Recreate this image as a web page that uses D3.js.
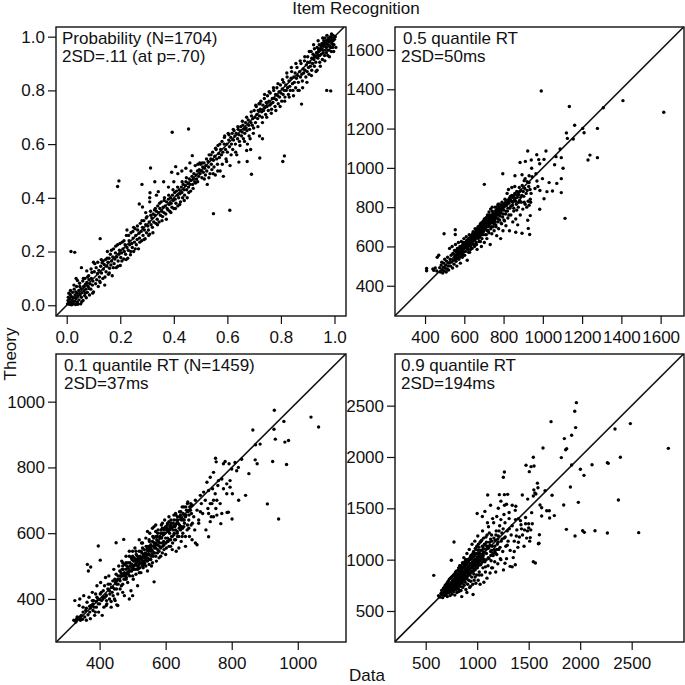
<!DOCTYPE html>
<html>
<head>
<meta charset="utf-8">
<title>Item Recognition</title>
<style>
  html, body { margin: 0; padding: 0; background: #fff; }
  text { font-family: "Liberation Sans", Arial, sans-serif; fill: #111; }
</style>
</head>
<body>
<script src="https://d3js.org/d3.v7.min.js"></script>
<svg id="chart" width="685" height="685" style="display:block"></svg>
<script>
// values
const probTicks = [0, 0.2, 0.4, 0.6, 0.8, 1.0]
const median_ticks = [400, 600, 800, 1000, 1200, 1400, 1600]
const q1Ticks = [400, 600, 800, 1000]
const q9Ticks = [500, 1000, 1500, 2000, 2500]

const probPoints = [
[.003,.005],[.005,.018],[.006,.03],[.008,.012],[.01,.004],[.012,.025],[.013,.04],[.015,.01],[.017,.002],[.018,.032],[.02,.018],[.022,.048],[.024,.008],[.025,.028],[.028,.06],[.03,.015],[.031,.038],[.033,.003],[.035,.025],[.037,.07],[.039,.045],[.04,.012],[.042,.033],[.045,.055],[.046,.02],[.048,.082],[.05,.04],[.052,.005],[.054,.062],[.055,.03],[.057,.047],[.06,.09],[.061,.018],[.063,.07],[.065,.054],[.067,.036],[.068,.1],[.07,.078],[.072,.06],[.073,.028],[.075,.085],[.077,.048],[.08,.07],[.082,.11],[.083,.095],[.085,.038],[.087,.08],[.09,.06],[.092,.1],[.094,.122],[.096,.075],[.098,.09],[.1,.16],[.1,.05],
[.016,.2],[.03,.197],[.125,.248],[.055,.14],[.035,.1],[.04,.092],[.075,.128],[.105,.155],[.11,.14],[.112,.095],[.115,.118],[.118,.07],[.12,.13],[.122,.105],[.125,.085],[.127,.145],[.13,.12],[.132,.158],[.135,.1],[.137,.135],[.14,.152],[.142,.075],[.145,.17],[.147,.125],[.15,.145],[.152,.2],[.154,.16],[.156,.115],[.158,.175],[.16,.138],[.163,.19],[.165,.15],[.168,.165],[.17,.11],[.172,.18],[.175,.21],[.177,.155],[.18,.172],[.182,.195],[.185,.14],[.187,.18],[.19,.225],[.192,.165],[.195,.19],[.197,.205],[.2,.148],[.202,.178],[.205,.195],[.207,.235],[.21,.21],[.213,.172],[.215,.2],[.218,.225],[.22,.19],[.223,.26],[.225,.215],[.228,.175],[.23,.205],[.233,.24],[.235,.225],[.238,.188],[.24,.27],[.243,.23],[.245,.215],[.248,.25],[.25,.2],[.253,.235],[.255,.285],[.258,.26],[.26,.225],[.263,.245],[.265,.28],[.268,.21],[.27,.268],[.272,.25],[.275,.305],[.278,.275],[.28,.24],[.283,.29],[.285,.26],[.288,.315],[.29,.28],[.293,.248],[.295,.3],[.298,.27],[.3,.33],[.303,.295],[.305,.28],[.308,.31],[.31,.265],[.313,.35],[.315,.3],[.318,.325],[.32,.29],[.323,.34],[.325,.31],
[.19,.442],[.195,.463],[.313,.511],[.281,.45],[.329,.46],[.394,.644],[.455,.656],[.548,.341],[.609,.354],[.69,.488],[.721,.548],[.807,.535],[.813,.556],[.877,.749],[.971,.8],[.986,.798],[.731,.62],[.72,.63],[.674,.535],[.643,.533],[.672,.576],[.687,.58],[.362,.46],[.392,.495],[.407,.516],[.469,.557],[.311,.419],[.342,.423],[.271,.377],[.283,.366],[.31,.385],[.335,.41],[.4,.46],[.38,.44],[.415,.49],[.43,.5],[.445,.51],[.46,.53],[.31,.4],[.295,.345],[.25,.29],[.225,.28],
[.328,.355],[.33,.335],[.333,.305],[.335,.35],[.338,.32],[.34,.37],[.343,.345],[.345,.31],[.348,.36],[.35,.335],[.353,.385],[.355,.35],[.358,.33],[.36,.365],[.363,.345],[.365,.4],[.368,.37],[.37,.34],[.373,.385],[.375,.36],[.378,.355],[.38,.395],[.383,.375],[.385,.35],[.388,.4],[.39,.38],[.393,.365],[.395,.41],[.398,.39],[.4,.36],[.403,.42],[.405,.395],[.408,.38],[.41,.425],[.413,.41],[.415,.37],[.418,.4],[.42,.43],[.423,.415],[.425,.385],[.428,.44],[.43,.42],[.433,.4],[.435,.45],[.438,.43],[.44,.41],[.443,.445],[.445,.46],[.448,.43],[.45,.4],[.453,.455],[.455,.44],[.458,.47],[.46,.45],[.463,.425],[.465,.465],[.468,.48],[.47,.45],[.473,.47],[.475,.49],[.478,.46],[.48,.52],[.483,.485],[.485,.47],[.488,.5],[.49,.525],[.493,.48],[.495,.505],[.498,.49],[.5,.525],[.503,.5],[.505,.475],[.508,.515],[.51,.495],[.513,.53],[.515,.51],[.518,.485],[.52,.52],[.523,.5],[.525,.45],[.528,.535],[.53,.515],[.532,.56],[.535,.49],[.538,.545],[.54,.525],[.542,.505],[.545,.57],[.548,.54],[.55,.515],[.553,.555],[.555,.485],[.558,.58],[.56,.545],[.563,.525],[.565,.595],[.568,.565],[.57,.55],[.573,.5],[.575,.58],[.578,.56],[.58,.61],[.583,.57],[.585,.48],[.588,.6],[.59,.63],[.593,.58],[.595,.545],[.598,.6],[.6,.57],[.603,.64],[.605,.615],[.608,.59],[.61,.52],[.613,.625],[.615,.6],[.618,.64],[.62,.58],[.623,.615],[.625,.65],[.628,.63],[.63,.6],[.633,.64],[.635,.56],[.638,.62],[.64,.655],[.643,.635],[.645,.61],[.648,.65],[.65,.665],[.653,.63],[.655,.645],[.658,.67],[.66,.62],[.663,.655],[.665,.64],[.668,.68],[.67,.66],[.673,.65],[.675,.6],[.678,.69],[.68,.67],[.683,.655],[.685,.62],[.688,.68],[.69,.705],[.693,.67],[.695,.695],[.698,.66],[.7,.725],[.703,.7],[.705,.68],[.708,.74],[.71,.71],[.713,.695],[.715,.725],[.718,.75],[.72,.705],[.723,.73],[.725,.76],[.728,.72],[.73,.7],[.733,.745],[.735,.725],[.738,.77],[.74,.735],[.743,.71],[.745,.755],[.748,.74],[.75,.78],[.753,.725],[.755,.76],[.758,.745],[.76,.79],[.763,.75],[.765,.73],[.768,.77],[.77,.755],[.773,.8],[.775,.77],[.778,.74],[.78,.785],[.783,.765],[.785,.81],[.788,.78],[.79,.75],[.793,.795],[.795,.775],[.798,.82],[.8,.79],[.803,.76],[.805,.805],[.808,.785],[.81,.83],[.813,.8],[.815,.775],[.818,.82],[.82,.8],[.823,.85],[.825,.81],[.828,.785],[.83,.835],[.833,.815],[.835,.8],[.838,.845],[.84,.87],[.843,.825],[.845,.8],[.848,.85],[.85,.83],[.853,.865],[.855,.81],[.858,.845],[.86,.885],[.863,.855],[.865,.83],[.868,.8],[.87,.87],[.873,.85],[.875,.9],[.878,.86],[.88,.835],[.883,.88],[.885,.865],[.888,.91],[.89,.875],[.893,.85],[.895,.895],[.898,.87],[.9,.925],[.9,.905],[.903,.885],[.905,.86],[.908,.905],[.91,.89],[.913,.945],[.915,.92],[.915,.875],[.918,.9],[.92,.935],[.923,.915],[.925,.955],[.925,.89],[.928,.925],[.93,.905],[.933,.94],[.935,.96],[.935,.875],[.938,.92],[.94,.945],[.943,.97],[.945,.93],[.945,.905],[.948,.955],[.95,.935],[.953,.975],[.955,.95],[.955,.915],[.958,.94],[.96,.985],[.96,.965],[.963,.93],[.965,.95],[.965,.995],[.968,.975],[.97,.94],[.97,.96],[.973,.985],[.975,.93],[.975,.97],[.978,.995],[.98,.95],[.98,.98],[.983,.965],[.985,1.0],[.985,.985],[.988,.945],[.99,.975],[.99,.995],[.993,.96],[.995,.985],[.995,1.005],[.998,.97],[1.0,.99],[1.003,1.0],[1.005,.96],
[.008,.045],[.014,.055],[.021,.003],[.027,.075],[.034,.05],[.041,.004],[.049,.07],[.056,.012],[.062,.1],[.069,.045],[.078,.105],[.084,.062],[.091,.135],[.097,.045],[.103,.125],[.108,.08],[.116,.16],[.123,.09],[.129,.17],[.136,.165],[.143,.105],[.151,.175],[.159,.12],[.167,.205],[.174,.14],[.183,.22],[.191,.145],[.199,.23],[.206,.165],[.214,.24],[.222,.17],[.231,.26],[.239,.2],[.247,.275],[.256,.21],[.264,.295],[.273,.235],[.281,.315],[.289,.245],[.297,.325],[.306,.26],[.314,.335],[.322,.27],[.331,.36],[.339,.3],[.347,.38],[.356,.315],[.364,.39],[.372,.32],[.381,.41],[.389,.345],[.397,.43],[.406,.36],[.414,.44],[.422,.375],[.431,.46],[.439,.39],[.447,.475],[.456,.42],[.464,.5],[.472,.435],[.481,.455],[.489,.46],[.497,.53],[.506,.53],[.514,.47],[.522,.545],[.531,.475],[.539,.56],[.547,.49],[.556,.585],[.564,.5],[.572,.6],[.581,.525],[.589,.625],[.597,.535],[.606,.635],[.614,.56],[.622,.655],[.631,.57],[.639,.665],[.647,.595],[.656,.685],[.664,.61],[.672,.7],[.681,.63],[.689,.72],[.697,.64],[.706,.745],[.714,.665],[.722,.75],[.731,.68],[.739,.785],[.747,.7],[.756,.795],[.764,.715],[.772,.81],[.781,.725],[.789,.825],[.797,.74],[.806,.84],[.814,.76],[.822,.865],[.831,.775],[.839,.885],[.847,.78],[.856,.9],[.864,.8],[.872,.91],[.881,.81],[.889,.925],[.897,.83],[.906,.945],[.914,.855],[.922,.97],[.931,.87],[.939,.985],[.947,.89],[.956,.995],[.964,.91],[.972,1.005],[.981,.925],[.989,1.01],[.997,.945],
[.96,.975],[.965,.975],[.97,.985],[.975,.985],[.98,.99],[.94,.93],[.945,.95],[.95,.955],[.95,.965],[.955,.965],[.92,.92],[.925,.93],[.93,.925],[.935,.94],[.94,.955],[.975,.95],[.98,.965],[.985,.96],[.99,.96],[.995,.97]
]

const medianPoints = [
[992,1391],[1135,1312],[1162,1217],[1408,1342],[1616,1283],[1278,1201],[1203,1201],[1210,1179],[1120,1178],[1125,1150],[1155,1147],[1308,1306],[1230,1040],[1240,1065],[1278,1052],[1113,743],[923,1086],[1016,1086],[969,1067],[1088,1096],[1067,1057],[1094,1052],[1060,1016],[1103,998],[1094,945],[1094,874],[1049,882],[1021,879],[1006,843],[984,789],[1071,921],[1032,925],[998,945],[970,933],[796,970],[702,916],[497,665],[554,685],[554,661],[408,488],[408,476],[926,692],[933,661],[894,667],[862,672],[923,733],[936,757],[936,840],[884,1027],[911,1033],[941,1040],[979,1042],[984,1021],[1006,1043],[858,960],[894,965],[930,960],[943,998],[975,905],[960,895],[985,885],[910,945],[920,930],[930,925],[905,935],[945,955],[965,970],
[440,485],[445,478],[452,490],[460,475],[462,545],[470,555],[475,492],[478,470],[482,505],[485,520],[488,480],[490,465],[492,495],[495,515],[498,475],[500,535],[502,490],[505,505],[508,470],[510,525],[512,485],[515,545],[518,500],[520,480],[522,515],[525,590],[528,535],[530,500],[533,555],[535,520],[538,600],[540,490],[542,565],[545,530],[548,510],[550,580],[552,545],[555,610],[558,525],[560,570],[562,500],[565,590],[567,550],[570,620],[572,535],[575,575],[578,600],[580,515],[582,560],[585,625],[588,585],[590,545],[592,610],[595,570],[598,640],[600,590],[602,555],[605,620],[607,575],[610,650],[612,600],[615,530],[618,635],[620,585],[622,610],[625,660],[627,570],[630,625],[632,600],[635,655],[637,640],[640,590],[642,615],[645,675],[647,630],[650,650],[652,600],[655,690],[657,640],[660,620],[662,665],[665,585],[667,645],[670,700],[672,660],[675,625],[677,680],[680,650],[682,715],[685,670],[687,600],[690,640],[692,695],[695,660],[697,730],[700,680],[702,620],[705,710],[707,660],[710,695],[712,745],[715,640],[717,680],[720,725],[722,700],[725,670],[727,760],[730,715],[732,610],[735,690],[737,740],[740,665],[742,780],[745,720],[747,700],[750,750],[752,680],[755,735],[757,800],[760,710],[762,770],[765,655],[767,745],[770,725],[772,815],[775,690],[777,760],[780,735],[782,790],[785,640],[787,770],[790,715],[792,825],[795,750],[797,680],[800,785],[802,800],[805,730],[807,840],[810,765],[812,705],[815,810],[818,870],[820,780],[822,745],[825,890],[827,820],[830,680],[832,795],[835,855],[837,760],[840,830],[842,900],[845,810],[847,725],[850,860],[852,780],[855,835],[857,905],[860,845],[862,740],[865,815],[867,880],[870,850],[872,710],[875,800],[877,865],[880,900],[882,835],[885,760],[888,885],[890,825],[893,860],[895,910],[898,790],[900,880],[903,855],[905,825],[908,895],[910,815],[915,870],[918,800],[920,885],[925,830],[928,905],[930,810],[935,890],[938,825],[940,870],
[560,540],[565,545],[570,575],[575,560],[580,590],[585,565],[590,600],[595,585],[600,610],[605,595],[610,615],[615,590],[620,625],[625,610],[630,640],[635,620],[640,650],[645,630],[650,670],[655,650],[660,680],[665,660],[670,675],[675,690],[680,685],[685,700],[690,680],[695,710],[700,705],[705,690],[710,720],[715,705],[720,740],[725,725],[730,745],[735,720],[740,755],[745,740],[750,765],[755,750],[760,780],[765,760],[770,790],[775,775],[780,800],[785,790],[790,810],[800,815],[810,825],[820,835],[830,845],[840,855],[850,850],
[548,560],[553,535],[558,580],[563,555],[568,590],[572,565],[577,545],[582,600],[587,575],[592,555],[597,620],[602,595],[607,605],[612,630],[617,605],[622,570],[627,645],[632,585],[637,615],[642,665],[647,610],[652,640],[657,665],[662,610],[667,690],[672,640],[677,660],[682,625],[687,695],[692,660],[697,675],[702,725],[707,690],[712,660],[717,735],[722,680],[727,715],[732,750],[737,700],[742,730],[747,765],[752,715],[757,745],[762,700],[767,790],[772,740],[777,785],[782,755],[787,720],[792,795],[797,765],[802,735],[807,810],[812,780],[817,830],[822,795],[827,760],[832,840],[837,805],[842,860],[847,825],[852,795],[857,870],[862,830],[867,785],[872,860],[877,825],[882,880],[887,850],
[600,600],[608,620],[616,615],[624,640],[632,630],[640,640],[648,655],[656,660],[664,675],[672,680],[680,670],[688,690],[696,695],[704,700],[712,715],[720,715],[728,730],[736,735],[744,755],[752,760],[760,755],[768,770],[776,780],[784,780],[792,785],[610,595],[618,600],[626,625],[634,610],[642,630],[650,635],[658,650],[666,680],[674,670],[682,695],[690,705],[698,720],[706,730],[714,745],[722,750],[730,730],[738,760],[746,775],[754,725],[762,785],[770,805],[778,815],
[655,635],[660,650],[668,650],[676,665],[684,680],[692,680],[700,690],[708,705],[716,720],[724,705],[732,725],[740,740],[748,735],[756,760],[764,775],[772,765],[780,770],[788,800],[796,800],[804,810],[812,810],[820,820],[670,690],[678,705],[686,720],[694,725],[702,740],[710,745],[718,760],[726,775],[734,790],[742,800]
]

const q1Points = [
[929,974],[958,940],[1040,953],[1063,923],[928,916],[864,914],[932,886],[961,877],[972,882],[886,871],[872,869],[924,818],[966,809],[871,823],[877,811],[852,781],[908,689],[942,643],[842,715],[821,700],[802,720],[801,643],[786,663],[790,664],[767,629],[730,589],[396,561],[363,505],[373,497],[366,485],[402,518],[450,571],[473,581],[751,828],[753,817],[775,811],[780,818],[792,811],[452,382],[455,380],[565,452],[830,825],[820,800],[815,790],[810,815],[800,795],[795,760],[785,750],[770,765],[760,760],[745,785],[735,770],[725,755],[775,735],[785,720],[795,740],[755,700],[740,690],[705,665],[730,660],[745,650],[755,655],[735,635],[700,640],[690,570],[695,565],[680,580],
[322,335],[325,395],[328,330],[332,345],[335,342],[338,380],[340,400],[342,335],[345,350],[348,338],[350,375],[352,410],[355,345],[358,365],[360,335],[362,390],[365,352],[368,405],[370,360],[372,340],[375,380],[378,420],[380,365],[382,395],[385,350],[388,415],[390,375],[392,440],[395,400],[397,360],[400,385],[403,450],[405,420],[408,350],[410,400],[413,375],[415,440],[418,465],[420,410],[422,385],[425,430],[428,470],[430,400],[432,445],[435,375],[438,420],[440,455],[443,490],[445,430],[447,395],[450,475],[452,445],[455,415],[458,500],[460,460],[462,430],[465,480],[467,515],[470,445],[472,490],[475,410],[478,470],[480,530],[482,500],[485,450],[487,475],[490,545],[492,510],[495,425],[497,485],[500,530],[502,460],[505,500],[507,555],[510,475],[512,520],[515,440],[517,495],[520,545],[522,510],[525,480],[527,570],[530,525],[532,495],[535,550],[537,510],[540,585],[542,535],[545,485],[547,560],[550,520],[552,600],[555,545],[557,500],[560,575],[562,530],[565,620],[567,555],[570,590],[572,515],[575,565],[577,610],[580,545],[582,585],[585,530],[587,625],[590,570],[592,600],[595,550],[597,640],[600,585],[602,555],[605,615],[607,575],[610,650],[612,600],[615,560],[617,630],[620,590],[622,610],[625,655],[627,580],[630,625],[632,545],[635,605],[637,640],[640,590],[642,665],[645,620],[647,575],[650,645],[652,600],[655,680],[657,630],[660,560],[662,655],[665,610],[667,695],[670,640],[672,590],[675,670],[677,625],[680,685],[685,650],[688,610],[690,700],[695,670],[700,630],[705,715],[708,690],[712,660],[715,725],[720,700],[722,610],[728,675],[730,730],[735,690],[738,650],[742,735],[745,700],[750,720],[752,675],[758,745],[765,690],[770,660],
[420,412],[430,425],[440,435],[448,450],[455,460],[462,470],[468,475],[475,480],[480,490],[486,495],[492,500],[498,505],[503,515],[508,520],[513,510],[518,525],[523,530],[528,520],[533,535],[538,540],[543,550],[548,545],[553,555],[558,550],[563,560],[568,570],[573,580],[578,575],[583,590],[588,585],[593,595],[598,600],[603,610],[608,605],[613,620],[618,615],[623,630],[628,620],[633,640],[638,630],[643,650],[648,640],[653,660],[658,655],[663,670],[668,665],[673,680],[678,685],[330,338],[340,345],[350,360],[360,372],[370,378],[380,385],[390,392],[400,398],[410,405],[470,510],[480,510],[500,545],[530,570],[520,580],[545,605],[560,615],[570,625],[590,630],[500,470],[520,480],[540,500],[560,510],[580,525],[600,535],[620,550],[640,555],[660,590],[420,380],[435,392],[445,400],[470,420],[490,400],[500,410],
[372,372],[378,395],[383,375],[387,360],[392,405],[396,385],[402,415],[406,395],[411,425],[416,405],[421,395],[426,445],[431,415],[436,435],[441,410],[446,460],[451,430],[456,445],[461,485],[466,440],[471,470],[476,505],[481,465],[486,510],[491,470],[496,525],[501,490],[506,515],[511,535],[516,490],[521,520],[526,545],[531,505],[536,525],[541,560],[546,525],[551,575],[556,530],[561,590],[566,540],[571,565],[576,600],[581,560],[586,610],[591,560],[596,615],[601,570],[606,630],[611,580],[616,640],[621,570],[626,600],[631,655],[636,590],[641,615],[646,665],[651,615],[656,640],[661,680],[666,625],[671,655],[676,690],[681,630],
[450,455],[456,470],[462,455],[468,490],[474,460],[480,475],[486,480],[492,485],[498,520],[504,490],[510,505],[516,515],[522,495],[528,540],[534,515],[540,520],[546,535],[552,560],[558,535],[564,585],[570,555],[576,550],[582,570],[588,600],[594,575],[600,620],[606,585],[612,610],[618,590],[624,620],[630,610],[636,650],[642,625],[648,620],[654,640],[660,650],[666,690],[672,670],[678,660],[470,500],[490,530],[510,545],[530,555],[550,580],[570,605],[590,615],[610,635],[630,660],[650,680],[530,500],[550,505],[570,530],[590,540],[610,560],[630,580],[650,590],[670,615],
[505,525],[515,530],[525,525],[535,530],[545,555],[555,565],[565,570],[575,590],[585,600],[595,610],[605,625],[615,625],[625,640],[635,630],[645,655],[515,500],[525,510],[535,505],[545,515],[555,520],[565,540],[575,540],[585,555],[595,565],[605,575],[615,580],[625,595],[635,600],[645,610],[655,620],[480,460],[490,485],[500,495],[510,490],[520,505],[530,510],[540,530],[550,535],[560,545],[570,565]
]

const q9Points = [
[1963,2529],[1947,2445],[1717,2344],[1956,2286],[2487,2325],[2338,2273],[1917,2211],[1846,2179],[1859,2071],[1869,2081],[1639,2088],[2856,2084],[1817,1994],[2390,1997],[1545,1997],[1474,1919],[1523,1906],[1552,1912],[1506,1857],[1264,1854],[1254,1802],[1917,1922],[2115,1925],[2264,1945],[2273,1938],[2002,1880],[2037,1821],[1905,1708],[2371,1581],[1982,1558],[1840,1532],[1727,1627],[1659,1672],[1866,1295],[1950,1231],[2024,1282],[2040,1266],[2144,1282],[2264,1260],[2568,1263],[1102,1630],[1215,1633],[1264,1633],[1296,1636],[1438,1630],[1545,980],[1565,968],[578,847],[749,994],[775,1172],[1594,1155],[1604,1243],[1529,1458],[1610,1532],[1626,1506],[1626,1425],[1675,1477],[1700,1477],[1703,1406],[1749,1429],[1550,1680],[1560,1650],[1585,1745],[1590,1700],[1570,1640],[1545,1620],[1490,1590],[1375,1520],[1340,1530],[1285,1540],[1265,1530],[1230,1570],[1205,1500],[1130,1530],[1075,1470],[1000,1450],[1050,1420],[1100,1360],[1150,1400],[1190,1420],[1230,1390],[1260,1440],[1310,1460],[1370,1480],[1400,1400],[1420,1380],[1470,1350],[1500,1310],[1520,1290],[1460,1290],[1430,1300],[1480,1210],[1510,1180],[1600,1160],[1380,1230],[1400,1170],[1360,1080],[1370,950],[1340,930],[1320,935],[1270,965],[1230,1000],[1180,1060],[1140,920],[1080,930],[1020,850],[980,830],[935,740],[850,640],[900,680],[960,660],[820,710],
[625,650],[630,640],[640,635],[648,670],[655,700],[660,660],[665,630],[672,720],[680,680],[685,650],[690,750],[695,705],[700,665],[705,730],[710,640],[712,780],[718,700],[722,745],[727,675],[730,810],[735,720],[738,650],[742,760],[745,690],[750,830],[752,735],[757,665],[760,790],[763,715],[767,760],[770,850],[773,690],[777,810],[780,735],[783,655],[787,775],[790,880],[793,710],[797,820],[800,760],[803,680],[807,850],[810,790],[813,730],[817,900],[820,820],[823,690],[827,770],[830,940],[833,860],[837,740],[840,800],[843,700],[847,890],[850,830],[853,770],[857,970],[860,730],[863,870],[867,810],[870,1020],[873,750],[877,920],[880,850],[883,780],[887,1000],[890,710],[893,880],[897,820],[900,1060],[903,950],[907,760],[910,870],[913,1000],[917,800],[920,910],[923,1100],[927,730],[930,850],[933,960],[937,790],[940,1040],[943,890],[947,830],[950,1150],[953,980],[957,760],[960,920],[963,1070],[967,860],[970,800],[973,1000],[977,1180],[980,900],[983,950],[987,770],[990,1100],[995,850],[998,1030],[1002,920],[1006,1230],[1010,800],[1013,980],[1017,1120],[1020,880],[1024,1060],[1028,760],[1032,950],[1036,1180],[1040,1010],[1044,850],[1048,1090],[1052,1280],[1056,920],[1060,1040],[1065,780],[1070,1150],[1075,980],[1080,880],[1085,1220],[1090,1060],[1095,820],[1100,1120],[1105,940],[1110,1320],[1115,1010],[1120,1170],[1125,870],[1130,1080],[1135,990],[1140,1240],[1145,1130],[1150,920],[1155,1040],[1160,1360],[1165,1100],[1170,980],[1175,1190],[1180,880],[1185,1280],[1190,1050],[1195,1150],[1200,960],[1205,1230],[1210,1100],[1218,1330],[1225,1010],[1232,1180],[1240,1260],[1248,1080],[1255,900],[1262,1210],[1270,1360],[1278,1130],[1285,1010],[1292,1280],[1300,1180],[1310,1400],[1320,1090],[1330,1240],[1340,1330],[1350,1020],[1360,1180],[1372,1390],[1385,1290],[1395,1120],[1410,1220],[1425,1340],[1440,1240],[1455,1130],[1470,1410],[1488,1280],[1500,1350],[1515,1215],[1535,1350],
[690,690],[700,700],[710,715],[720,725],[730,735],[740,745],[750,755],[760,770],[770,775],[780,785],[790,800],[800,805],[810,815],[820,835],[830,830],[840,850],[850,860],[860,870],[870,880],[880,890],[890,905],[900,910],[910,925],[920,930],[930,945],[940,950],[950,965],[960,970],[970,985],[980,995],[990,1005],[1000,1010],[1010,1020],[1020,1035],[1030,1040],[1040,1050],[700,760],[720,790],[740,820],[760,840],[780,860],[800,890],[820,920],[840,940],[860,960],[880,980],[900,1000],[760,720],[780,740],[800,750],[820,770],[840,790],[860,810],[880,830],[900,840],[920,860],[940,880],[960,890],[980,940],[1000,960],[1030,990],[1060,1010],[680,730],[710,755],[735,700],[765,800],[795,850],[825,880],[855,910],[885,940],[915,980],[945,1010],[975,1050],[1010,1090],[1050,1130],[1090,1170],[1130,1200],
[668,675],[676,705],[684,665],[692,720],[698,680],[706,695],[714,750],[716,680],[724,710],[728,760],[736,690],[744,730],[748,775],[756,710],[762,745],[768,800],[774,720],[778,770],[784,830],[788,735],[794,790],[798,725],[804,820],[808,760],[814,860],[818,790],[824,745],[828,880],[832,805],[838,770],[842,915],[846,815],[852,880],[856,790],[862,930],[866,840],[872,800],[876,950],[882,860],[886,810],[892,965],[896,880],[902,830],[906,990],[912,895],[916,850],[922,1010],[926,905],[932,870],[936,1030],[942,920],[946,880],[952,1050],[956,940],[962,890],[966,1080],[972,960],[976,910],[982,1110],[986,985],[992,920],[996,1130],[1002,1000],[1008,940],[1012,1150],[1018,1015],[1022,950],[1028,1170],[1034,1040],[1038,960],[1044,1190],[1050,1050],[1054,980],[1062,1210],[1068,1070],[1072,990],[1082,1100],[1088,1000],[1096,1240],[1102,1130],[1108,1020],[1118,1260],[1124,1140],[1132,1040],[1142,1180],[1152,1060],[1162,1210],[1172,1080],[1182,1240],[1192,1100],[1202,1170],[1212,1280],[1222,1120],[1242,1200],[1252,1300],[1272,1220],[1292,1140],[1312,1300],
[775,755],[785,760],[795,775],[805,780],[815,790],[825,805],[835,815],[845,825],[855,840],[865,850],[875,860],[885,870],[895,875],[905,890],[915,900],[925,915],[935,925],[945,925],[955,945],[965,950],[975,960],[985,970],[995,985],[1005,990],[1015,1000],[1025,1015],[1035,1025],[1045,1030],[1055,1060],[1065,1070],[770,805],[790,830],[810,855],[830,885],[850,905],[870,925],[890,950],[910,975],[930,1000],[950,1020],[970,1030],[990,1060],[1010,1060],[1030,1090],[1060,1110],[1080,1140],[1110,1110],[1140,1090],[1170,1130],[1200,1200]
]

const panels = [
  {points: probPoints, ticks: probTicks, fmt: d3.format('.1f'), x: [-0.04, 1.043], y: [-0.04, 1.036], left: 56, top: 27, size: [290, 289], lines: ['Probability (N=1704)', '2SD=.11 (at p=.70)'], labelX: [62, 62]},
  {points: medianPoints, ticks: median_ticks, fmt: d3.format('d'), x: [247, 1719], y: [246, 1717], left: 395, top: 27, size: [289, 289], lines: ['0.5 quantile RT', '2SD=50ms'], labelX: [403, 401]},
  {points: q1Points, ticks: q1Ticks, fmt: d3.format('d'), x: [268, 1146], y: [269, 1145], left: 56, top: 354, size: [290, 288], lines: ['0.1 quantile RT (N=1459)', '2SD=37ms'], labelX: [64, 64]},
  {points: q9Points, ticks: q9Ticks, fmt: d3.format('d'), x: [202, 3008], y: [198, 3003], left: 395, top: 354, size: [289, 288], lines: ['0.9 quantile RT', '2SD=194ms'], labelX: [401, 401]}
]

const svg = d3.select('#chart')

panels.forEach(p => {
  const w = p.size[0], h = p.size[1]
  const g = svg.append('g').attr('transform', `translate(${p.left},${p.top})`)
  const x = d3.scaleLinear().domain(p.x).range([0, w])
  const y = d3.scaleLinear().domain(p.y).range([h, 0])

  const xAxis = g.append('g').attr('transform', `translate(0,${h})`)
    .call(d3.axisBottom(x).tickValues(p.ticks).tickFormat(p.fmt).tickSize(8).tickPadding(7))
  const yAxis = g.append('g')
    .call(d3.axisLeft(y).tickValues(p.ticks).tickFormat(p.fmt).tickSize(8).tickPadding(3))
  ;[xAxis, yAxis].forEach(a => {
    a.select('.domain').remove()
    a.selectAll('line').attr('stroke', '#111').attr('stroke-width', 1.2)
    a.selectAll('text').style('font-size', '17px').style('font-family', '"Liberation Sans", Arial, sans-serif').attr('fill', '#111')
  })

  // identity line, corner to corner
  const lo = Math.max(p.x[0], p.y[0]), hi = Math.min(p.x[1], p.y[1])
  g.append('path')
    .datum([lo, hi])
    .attr('d', d3.line().x(d => x(d)).y(d => y(d)))
    .attr('fill', 'none').attr('stroke', '#111').attr('stroke-width', 1.6)

  g.selectAll('circle').data(p.points).join('circle')
    .attr('cx', d => x(d[0]))
    .attr('cy', d => y(d[1]))
    .attr('r', 1.7)
    .attr('fill', '#000')

  g.append('rect')
    .attr('width', w).attr('height', h)
    .attr('fill', 'none').attr('stroke', '#111').attr('stroke-width', 1.4)

  p.lines.forEach((t, i) => {
    svg.append('text')
      .attr('x', p.labelX[i])
      .attr('y', p.top + 17 + i * 18)
      .style('font-size', '17px')
      .text(t)
  })
})

svg.append('text').attr('x', 356).attr('y', 14).attr('text-anchor', 'middle').style('font-size', '17px').text('Item Recognition')
svg.append('text').attr('x', 367).attr('y', 681).attr('text-anchor', 'middle').style('font-size', '17px').text('Data')
svg.append('text').attr('transform', 'translate(16,354) rotate(-90)').attr('text-anchor', 'middle').style('font-size', '17px').text('Theory')
</script>
</body>
</html>
